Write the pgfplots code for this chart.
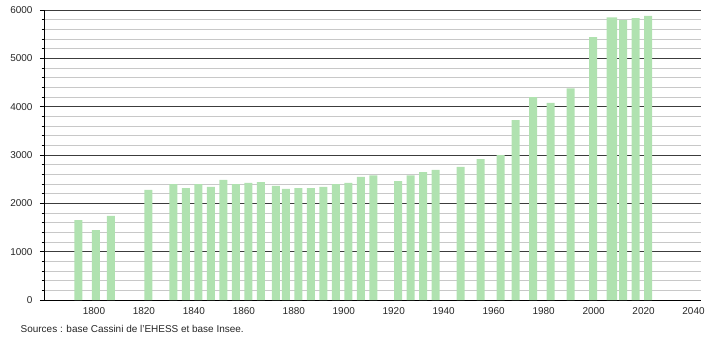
\documentclass[border=0pt]{standalone}
\usepackage{pgfplots}
\pgfplotsset{compat=1.18}
\usepackage{fontspec}
\setmainfont{Liberation Sans}
\definecolor{bargreen}{RGB}{176,226,176}
\definecolor{majgrid}{RGB}{60,60,60}
\definecolor{mingrid}{RGB}{200,200,200}
\begin{document}
\begin{tikzpicture}[x=1bp,y=1bp]
\path[use as bounding box] (0,0) rectangle (710,340);
\begin{axis}[
  at={(44bp,40bp)}, anchor=south west,
  scale only axis, width=657bp, height=290bp,
  xmin=1780, xmax=2043, ymin=0, ymax=6000,
  xtick={1800,1820,...,2040},
  ytick={0,1000,...,6000},
  minor y tick num=4,
  ymajorgrids, yminorgrids,
  major grid style={majgrid, line width=0.8bp},
  minor grid style={mingrid, line width=0.7bp},
  axis x line=bottom, axis y line=left,
  axis line style={-, black, line width=0.8bp},
  x tick style={draw=none},
  y tick style={black, line width=0.6bp},
  tick align=outside,
  major tick length=4bp, minor tick length=2.5bp,
  /pgf/number format/assume math mode=true,
  /pgf/number format/1000 sep={},
  tick label style={font=\fontsize{10}{12}\selectfont, text=black!85},
  yticklabel style={xshift=-4bp},
  xticklabel style={yshift=0bp},
  ybar, bar width=3.2, bar shift=2bp,
  clip=false,
]
\addplot[fill=bargreen, draw=none] coordinates {
(1793,1655) (1800,1448) (1806,1738) (1821,2276) (1831,2400) (1836,2317)
(1841,2400) (1846,2338) (1851,2483) (1856,2400) (1861,2421) (1866,2441)
(1872,2359) (1876,2297) (1881,2317) (1886,2317) (1891,2338) (1896,2400)
(1901,2421) (1906,2545) (1911,2579) (1921,2462) (1926,2579) (1931,2648)
(1936,2690) (1946,2752) (1954,2917) (1962,3000) (1968,3724) (1975,4200)
(1982,4076) (1990,4379) (1999,5441) (2006,5848) (2007,5848) (2011,5793)
(2016,5834) (2021,5876)
};
\end{axis}
\node[anchor=west, font=\fontsize{10}{12}\selectfont, text=black!85, inner sep=0pt] at (20.5bp,11bp) {Sources : base Cassini de l'EHESS et base Insee.};
\end{tikzpicture}
\end{document}
